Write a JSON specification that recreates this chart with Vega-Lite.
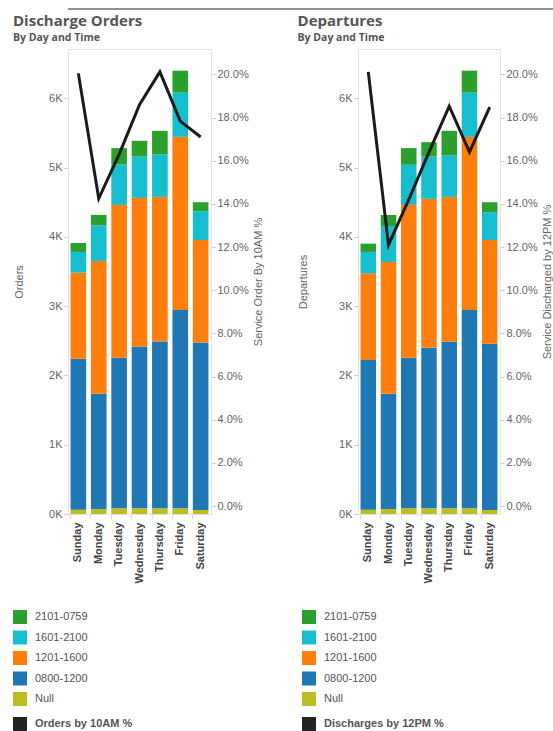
{
  "$schema": "https://vega.github.io/schema/vega-lite/v6.json",
  "padding": {"left": 12, "top": 7, "right": 0, "bottom": 0},
  "background": "white",
  "config": {
    "view": {"stroke": "#e3e3e3", "strokeWidth": 1},
    "font": "Liberation Sans",
    "title": {"font": "Open Sans", "fontSize": 15, "fontWeight": 700, "color": "#555555", "subtitleFont": "Open Sans", "subtitleFontSize": 10.5, "subtitleFontWeight": 700, "subtitleColor": "#555555", "subtitlePadding": 4, "offset": 6, "anchor": "start", "frame": "bounds"},
    "axis": {"labelFont": "Liberation Sans", "labelFontSize": 11, "labelColor": "#666666", "titleFont": "Liberation Sans", "titleFontSize": 11, "titleFontWeight": "normal", "titleColor": "#666666", "tickColor": "#cccccc", "tickSize": 4, "domainColor": "#e3e3e3", "grid": false},
    "legend": {"orient": "none", "padding": 0, "symbolType": "square", "symbolSize": 196, "symbolStrokeWidth": 0, "labelFont": "Liberation Sans", "labelFontSize": 11, "labelColor": "#555555", "rowPadding": 6.5, "labelOffset": 8}
  },
  "datasets": {
    "topRule": [{"edge": 0, "start": 0, "end": 1}],
    "ordersBars": [
      {"day": "Sunday", "slot": "Null", "value": 63}, {"day": "Sunday", "slot": "0800-1200", "value": 2178}, {"day": "Sunday", "slot": "1201-1600", "value": 1243}, {"day": "Sunday", "slot": "1601-2100", "value": 299}, {"day": "Sunday", "slot": "2101-0759", "value": 130},
      {"day": "Monday", "slot": "Null", "value": 72}, {"day": "Monday", "slot": "0800-1200", "value": 1663}, {"day": "Monday", "slot": "1201-1600", "value": 1918}, {"day": "Monday", "slot": "1601-2100", "value": 515}, {"day": "Monday", "slot": "2101-0759", "value": 150},
      {"day": "Tuesday", "slot": "Null", "value": 82}, {"day": "Tuesday", "slot": "0800-1200", "value": 2173}, {"day": "Tuesday", "slot": "1201-1600", "value": 2207}, {"day": "Tuesday", "slot": "1601-2100", "value": 583}, {"day": "Tuesday", "slot": "2101-0759", "value": 237},
      {"day": "Wednesday", "slot": "Null", "value": 82}, {"day": "Wednesday", "slot": "0800-1200", "value": 2337}, {"day": "Wednesday", "slot": "1201-1600", "value": 2145}, {"day": "Wednesday", "slot": "1601-2100", "value": 597}, {"day": "Wednesday", "slot": "2101-0759", "value": 227},
      {"day": "Thursday", "slot": "Null", "value": 82}, {"day": "Thursday", "slot": "0800-1200", "value": 2409}, {"day": "Thursday", "slot": "1201-1600", "value": 2087}, {"day": "Thursday", "slot": "1601-2100", "value": 612}, {"day": "Thursday", "slot": "2101-0759", "value": 342},
      {"day": "Friday", "slot": "Null", "value": 82}, {"day": "Friday", "slot": "0800-1200", "value": 2862}, {"day": "Friday", "slot": "1201-1600", "value": 2501}, {"day": "Friday", "slot": "1601-2100", "value": 637}, {"day": "Friday", "slot": "2101-0759", "value": 318},
      {"day": "Saturday", "slot": "Null", "value": 58}, {"day": "Saturday", "slot": "0800-1200", "value": 2419}, {"day": "Saturday", "slot": "1201-1600", "value": 1479}, {"day": "Saturday", "slot": "1601-2100", "value": 415}, {"day": "Saturday", "slot": "2101-0759", "value": 130}
    ],
    "departuresBars": [
      {"day": "Sunday", "slot": "Null", "value": 63}, {"day": "Sunday", "slot": "0800-1200", "value": 2159}, {"day": "Sunday", "slot": "1201-1600", "value": 1252}, {"day": "Sunday", "slot": "1601-2100", "value": 309}, {"day": "Sunday", "slot": "2101-0759", "value": 120},
      {"day": "Monday", "slot": "Null", "value": 72}, {"day": "Monday", "slot": "0800-1200", "value": 1663}, {"day": "Monday", "slot": "1201-1600", "value": 1903}, {"day": "Monday", "slot": "1601-2100", "value": 521}, {"day": "Monday", "slot": "2101-0759", "value": 159},
      {"day": "Tuesday", "slot": "Null", "value": 82}, {"day": "Tuesday", "slot": "0800-1200", "value": 2173}, {"day": "Tuesday", "slot": "1201-1600", "value": 2207}, {"day": "Tuesday", "slot": "1601-2100", "value": 579}, {"day": "Tuesday", "slot": "2101-0759", "value": 241},
      {"day": "Wednesday", "slot": "Null", "value": 82}, {"day": "Wednesday", "slot": "0800-1200", "value": 2318}, {"day": "Wednesday", "slot": "1201-1600", "value": 2149}, {"day": "Wednesday", "slot": "1601-2100", "value": 612}, {"day": "Wednesday", "slot": "2101-0759", "value": 207},
      {"day": "Thursday", "slot": "Null", "value": 82}, {"day": "Thursday", "slot": "0800-1200", "value": 2405}, {"day": "Thursday", "slot": "1201-1600", "value": 2091}, {"day": "Thursday", "slot": "1601-2100", "value": 598}, {"day": "Thursday", "slot": "2101-0759", "value": 356},
      {"day": "Friday", "slot": "Null", "value": 82}, {"day": "Friday", "slot": "0800-1200", "value": 2862}, {"day": "Friday", "slot": "1201-1600", "value": 2501}, {"day": "Friday", "slot": "1601-2100", "value": 637}, {"day": "Friday", "slot": "2101-0759", "value": 318},
      {"day": "Saturday", "slot": "Null", "value": 58}, {"day": "Saturday", "slot": "0800-1200", "value": 2400}, {"day": "Saturday", "slot": "1201-1600", "value": 1498}, {"day": "Saturday", "slot": "1601-2100", "value": 400}, {"day": "Saturday", "slot": "2101-0759", "value": 145}
    ],
    "ordersLine": [
      {"day": "Sunday", "pct": 0.2005}, {"day": "Monday", "pct": 0.1425}, {"day": "Tuesday", "pct": 0.163}, {"day": "Wednesday", "pct": 0.186}, {"day": "Thursday", "pct": 0.2012}, {"day": "Friday", "pct": 0.1784}, {"day": "Saturday", "pct": 0.171}
    ],
    "departuresLine": [
      {"day": "Sunday", "pct": 0.2012}, {"day": "Monday", "pct": 0.121}, {"day": "Tuesday", "pct": 0.142}, {"day": "Wednesday", "pct": 0.164}, {"day": "Thursday", "pct": 0.1853}, {"day": "Friday", "pct": 0.164}, {"day": "Saturday", "pct": 0.1849}
    ]
  },
  "spacing": 3,
  "vconcat": [
    {
      "data": {"name": "topRule"},
      "width": 541,
      "height": 2,
      "view": {"stroke": null},
      "mark": {"type": "rule", "color": "#6e6e6e", "strokeWidth": 1.6},
      "encoding": {
        "x": {"field": "start", "type": "quantitative", "scale": {"domain": [0, 1]}, "axis": null},
        "x2": {"field": "end"},
        "y": {"field": "edge", "type": "quantitative", "scale": {"domain": [0, 1]}, "axis": null}
      }
    },
    {
      "spacing": 33,
      "resolve": {"scale": {"fill": "independent", "stroke": "independent"}, "legend": {"fill": "independent", "stroke": "independent"}},
      "hconcat": [
        {
          "title": {"text": "Discharge Orders", "subtitle": "By Day and Time"},
          "width": 143,
          "height": 465,
          "resolve": {"scale": {"y": "independent"}},
          "layer": [
            {
              "data": {"name": "ordersBars"},
              "transform": [{"calculate": "indexof(['Null','0800-1200','1201-1600','1601-2100','2101-0759'], datum.slot)", "as": "stackOrder"}],
              "mark": {"type": "bar"},
              "encoding": {
                "x": {"field": "day", "type": "nominal", "sort": ["Sunday", "Monday", "Tuesday", "Wednesday", "Thursday", "Friday", "Saturday"], "scale": {"paddingInner": 0.234, "paddingOuter": 0.125}, "axis": {"title": null, "labelAngle": -90, "labelFontWeight": "bold", "labelColor": "#444444", "labelFontSize": 11, "bandPosition": 0, "tickColor": "#dddddd", "tickSize": 5, "labelPadding": 3}},
                "y": {"field": "value", "type": "quantitative", "stack": "zero", "scale": {"domain": [0, 6713], "nice": false}, "axis": {"title": "Orders", "values": [0, 1000, 2000, 3000, 4000, 5000, 6000], "labelExpr": "datum.value / 1000 + 'K'", "titlePadding": 24}},
                "fill": {"field": "slot", "type": "nominal", "scale": {"domain": ["2101-0759", "1601-2100", "1201-1600", "0800-1200", "Null"], "range": ["#2ca02c", "#17becf", "#ff7f0e", "#1f77b4", "#bcbd22"]}, "legend": {"title": null, "legendX": -55, "legendY": 561}},
                "order": {"field": "stackOrder", "type": "quantitative"}
              }
            },
            {
              "data": {"name": "ordersLine"},
              "mark": {"type": "line", "strokeWidth": 3},
              "encoding": {
                "x": {"field": "day", "type": "nominal", "sort": ["Sunday", "Monday", "Tuesday", "Wednesday", "Thursday", "Friday", "Saturday"]},
                "y": {"field": "pct", "type": "quantitative", "scale": {"domain": [-0.0037, 0.2118], "nice": false, "zero": false}, "axis": {"orient": "right", "format": ".1%", "values": [0, 0.02, 0.04, 0.06, 0.08, 0.1, 0.12, 0.14, 0.16, 0.18, 0.2], "title": "Service Order By 10AM %", "titleAngle": -90, "titleBaseline": "top", "titlePadding": 4}},
                "stroke": {"datum": "Orders by 10AM %", "type": "nominal", "scale": {"range": ["#1a1a1a"]}, "legend": {"title": null, "legendX": -55, "legendY": 668, "symbolFillColor": "#222222", "symbolStrokeColor": "#222222", "labelFontWeight": "bold"}}
              }
            }
          ]
        },
        {
          "title": {"text": "Departures", "subtitle": "By Day and Time"},
          "width": 142,
          "height": 465,
          "resolve": {"scale": {"y": "independent"}},
          "layer": [
            {
              "data": {"name": "departuresBars"},
              "transform": [{"calculate": "indexof(['Null','0800-1200','1201-1600','1601-2100','2101-0759'], datum.slot)", "as": "stackOrder"}],
              "mark": {"type": "bar"},
              "encoding": {
                "x": {"field": "day", "type": "nominal", "sort": ["Sunday", "Monday", "Tuesday", "Wednesday", "Thursday", "Friday", "Saturday"], "scale": {"paddingInner": 0.234, "paddingOuter": 0.125}, "axis": {"title": null, "labelAngle": -90, "labelFontWeight": "bold", "labelColor": "#444444", "labelFontSize": 11, "bandPosition": 0, "tickColor": "#dddddd", "tickSize": 5, "labelPadding": 3}},
                "y": {"field": "value", "type": "quantitative", "stack": "zero", "scale": {"domain": [0, 6713], "nice": false}, "axis": {"title": "Departures", "values": [0, 1000, 2000, 3000, 4000, 5000, 6000], "labelExpr": "datum.value / 1000 + 'K'", "titlePadding": 30}},
                "fill": {"field": "slot", "type": "nominal", "scale": {"domain": ["2101-0759", "1601-2100", "1201-1600", "0800-1200", "Null"], "range": ["#2ca02c", "#17becf", "#ff7f0e", "#1f77b4", "#bcbd22"]}, "legend": {"title": null, "legendX": -56, "legendY": 561}},
                "order": {"field": "stackOrder", "type": "quantitative"}
              }
            },
            {
              "data": {"name": "departuresLine"},
              "mark": {"type": "line", "strokeWidth": 3},
              "encoding": {
                "x": {"field": "day", "type": "nominal", "sort": ["Sunday", "Monday", "Tuesday", "Wednesday", "Thursday", "Friday", "Saturday"]},
                "y": {"field": "pct", "type": "quantitative", "scale": {"domain": [-0.0037, 0.2118], "nice": false, "zero": false}, "axis": {"orient": "right", "format": ".1%", "values": [0, 0.02, 0.04, 0.06, 0.08, 0.1, 0.12, 0.14, 0.16, 0.18, 0.2], "title": "Service Discharged by 12PM %", "titleAngle": -90, "titleBaseline": "top", "titlePadding": 4}},
                "stroke": {"datum": "Discharges by 12PM %", "type": "nominal", "scale": {"range": ["#1a1a1a"]}, "legend": {"title": null, "legendX": -56, "legendY": 668, "symbolFillColor": "#222222", "symbolStrokeColor": "#222222", "labelFontWeight": "bold"}}
              }
            }
          ]
        }
      ]
    }
  ]
}
